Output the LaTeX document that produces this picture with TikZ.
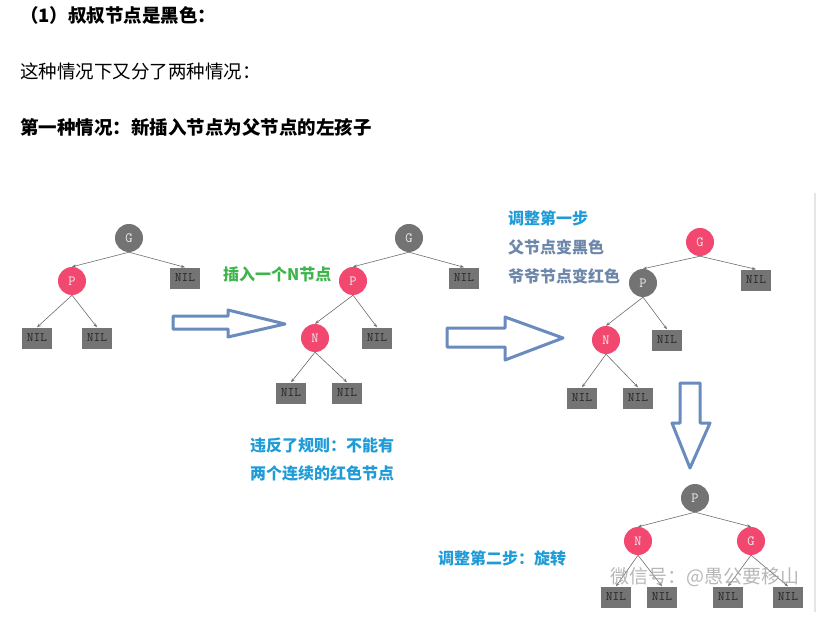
\documentclass[tikz,border=0pt]{standalone}
\usepackage{fontspec}
\setmainfont{Noto Sans CJK SC}
\usetikzlibrary{arrows.meta}

\definecolor{nodered}{HTML}{F2486F}
\definecolor{nodegray}{HTML}{737373}
\definecolor{nilgray}{HTML}{747474}
\definecolor{linkgray}{HTML}{6E6E6E}
\definecolor{arrowblue}{HTML}{6A8BBD}
\definecolor{noteblue}{HTML}{1F9BD7}
\definecolor{notegreen}{HTML}{3DB54A}
\definecolor{noteslate}{HTML}{6D87AB}

\tikzset{
  rbnode/.style={circle, minimum size=28pt, inner sep=0pt, text=white!93!black,
    font=\ttfamily\fontsize{14}{14}\selectfont},
  rednode/.style={rbnode, fill=nodered},
  blacknode/.style={rbnode, fill=nodegray},
  nilbox/.style={fill=nilgray, minimum width=30pt, minimum height=21pt, inner sep=0pt,
    text=black!85, font=\ttfamily\fontsize{13}{13}\selectfont},
  link/.style={draw=linkgray, line width=0.6pt, -{Stealth[length=4pt,width=3pt]}},
  bigarrow/.style={draw=arrowblue, line width=3pt, fill=white, line join=round},
  note/.style={anchor=west, inner sep=0pt, font=\bfseries\fontsize{16}{16}\selectfont},
  heading/.style={anchor=west, inner sep=0pt, font=\fontsize{18.5}{18.5}\selectfont},
}

\begin{document}
\begin{tikzpicture}[x=1pt, y=-1pt]
    \useasboundingbox[fill=white] (0,0) rectangle (831,618);

    % Heading text
    \node[heading, font=\bfseries\fontsize{18.5}{18.5}\selectfont] (title) at (20,15) {（1）叔叔节点是黑色：};
    \node[heading] (intro) at (20,71) {这种情况下又分了两种情况：};
    \node[heading, font=\bfseries\fontsize{18.5}{18.5}\selectfont] (case) at (20,127) {第一种情况：新插入节点为父节点的左孩子};

    % Right border line
    \draw[black!10, line width=2pt] (815,193) -- (815,612);

    % Tree 1: before insertion
    \node[blacknode] (g1) at (129,238) {G};
    \node[rednode] (p1) at (72,281) {P};
    \node[nilbox] (u1) at (185,278) {NIL};
    \node[nilbox] (pl1) at (37,338) {NIL};
    \node[nilbox] (pr1) at (97,338) {NIL};
    \draw[link] (g1.south) -- (p1.north);
    \draw[link] (g1.south) -- (u1.north);
    \draw[link] (p1.south) -- (pl1.north);
    \draw[link] (p1.south) -- (pr1.north);

    % Arrow 1
    \draw[bigarrow] (173,316) -- (228,316) -- (228,310) -- (285,324) -- (228,337) -- (228,329) -- (173,329) -- cycle;

    % Tree 2: N inserted
    \node[blacknode] (g2) at (409,238) {G};
    \node[rednode] (p2) at (353,281) {P};
    \node[nilbox] (u2) at (464,278) {NIL};
    \node[rednode] (n2) at (315,338) {N};
    \node[nilbox] (pr2) at (377,338) {NIL};
    \node[nilbox] (nl2) at (291,393) {NIL};
    \node[nilbox] (nr2) at (347,393) {NIL};
    \draw[link] (g2.south) -- (p2.north);
    \draw[link] (g2.south) -- (u2.north);
    \draw[link] (p2.south) -- (n2.north);
    \draw[link] (p2.south) -- (pr2.north);
    \draw[link] (n2.south) -- (nl2.north);
    \draw[link] (n2.south) -- (nr2.north);
    \node[note, text=notegreen] (insert) at (223,274) {插入一个N节点};
    \node[note, text=noteblue] (rule1) at (250,445) {违反了规则：不能有};
    \node[note, text=noteblue] (rule2) at (250,473) {两个连续的红色节点};

    % Arrow 2
    \draw[bigarrow] (447,328) -- (505,328) -- (505,317) -- (563,338) -- (505,360) -- (505,347) -- (447,347) -- cycle;

    % Tree 3: recolouring
    \node[rednode] (g3) at (700,242) {G};
    \node[blacknode] (p3) at (643,283) {P};
    \node[nilbox] (u3) at (756,280) {NIL};
    \node[rednode] (n3) at (606,340) {N};
    \node[nilbox] (pr3) at (667,340) {NIL};
    \node[nilbox] (nl3) at (582,398) {NIL};
    \node[nilbox] (nr3) at (638,398) {NIL};
    \draw[link] (g3.south) -- (p3.north);
    \draw[link] (g3.south) -- (u3.north);
    \draw[link] (p3.south) -- (n3.north);
    \draw[link] (p3.south) -- (pr3.north);
    \draw[link] (n3.south) -- (nl3.north);
    \draw[link] (n3.south) -- (nr3.north);
    \node[note, text=noteblue] (step1) at (508,218) {调整第一步};
    \node[note, text=noteslate] (step1a) at (508,247) {父节点变黑色};
    \node[note, text=noteslate] (step1b) at (508,276) {爷爷节点变红色};

    % Arrow 3 (down)
    \draw[bigarrow] (680,383) -- (700,383) -- (700,423) -- (710,423) -- (690,468) -- (672,423) -- (680,423) -- cycle;

    % Tree 4: rotation
    \node[blacknode] (p4) at (695,498) {P};
    \node[rednode] (n4) at (638,541) {N};
    \node[rednode] (g4) at (751,541) {G};
    \node[nilbox] (nl4) at (616,597) {NIL};
    \node[nilbox] (nr4) at (662,597) {NIL};
    \node[nilbox] (gl4) at (728,597) {NIL};
    \node[nilbox] (gr4) at (788,597) {NIL};
    \draw[link] (p4.south) -- (n4.north);
    \draw[link] (p4.south) -- (g4.north);
    \draw[link] (n4.south) -- (nl4.north);
    \draw[link] (n4.south) -- (nr4.north);
    \draw[link] (g4.south) -- (gl4.north);
    \draw[link] (g4.south) -- (gr4.north);
    \node[note, text=noteblue] (step2) at (438,558) {调整第二步：旋转};

    % Watermark
    \node[anchor=west, inner sep=0pt, text=black!35, opacity=0.8,
      font=\fontsize{19}{19}\selectfont] (mark) at (610,577) {微信号：@愚公要移山};
\end{tikzpicture}
\end{document}
